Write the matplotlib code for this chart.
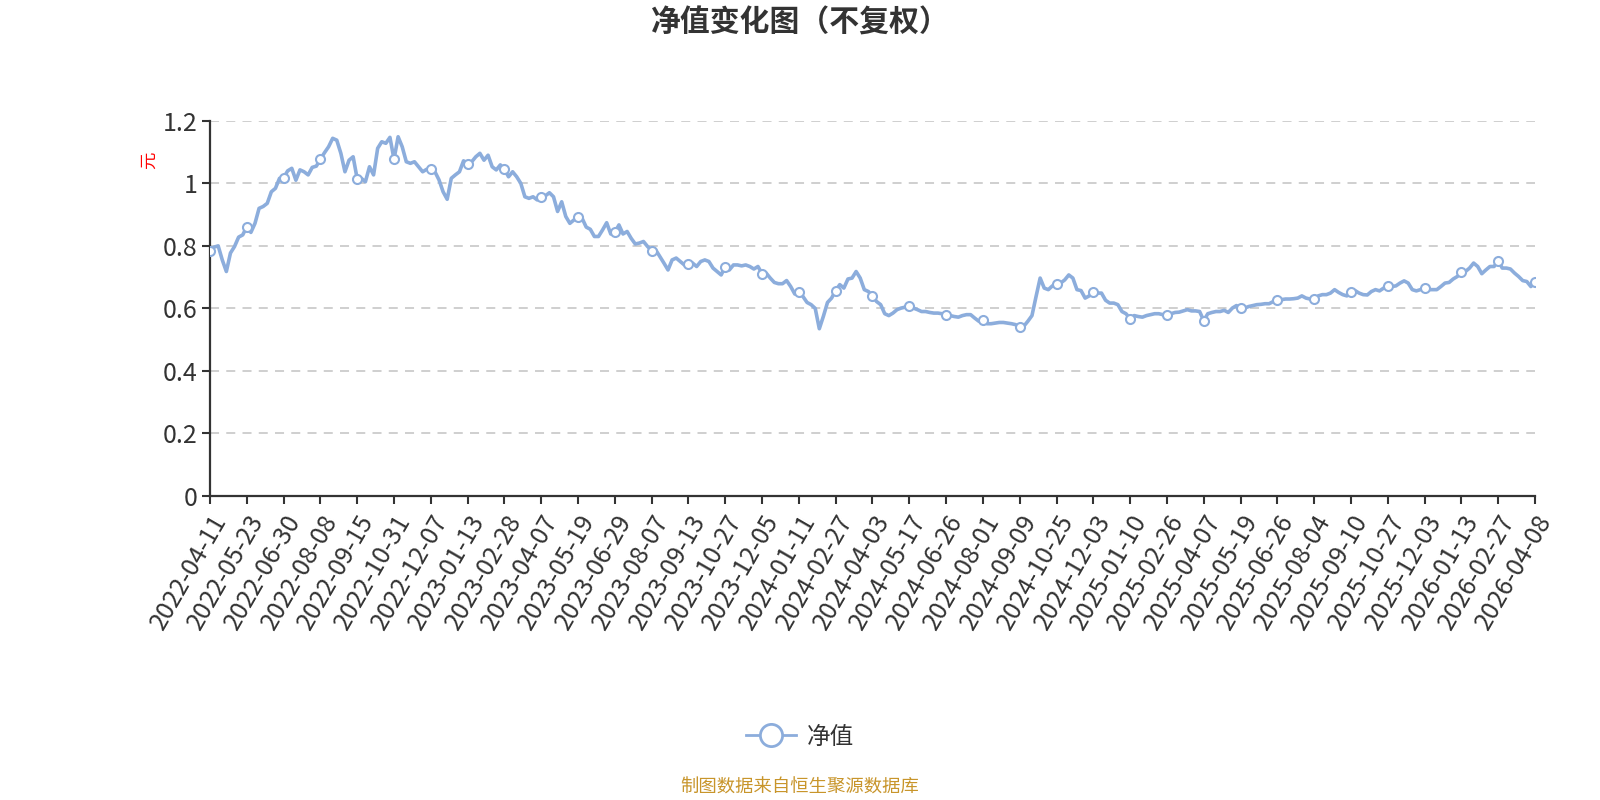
import matplotlib
matplotlib.use('Agg')
import matplotlib.pyplot as plt
from matplotlib.lines import Line2D
import numpy as np

plt.rcParams['font.family'] = ['Noto Sans CJK SC', 'DejaVu Sans']

# ---- data -------------------------------------------------------------
tick_labels = [
    "2022-04-11", "2022-05-23", "2022-06-30", "2022-08-08", "2022-09-15",
    "2022-10-31", "2022-12-07", "2023-01-13", "2023-02-28", "2023-04-07",
    "2023-05-19", "2023-06-29", "2023-08-07", "2023-09-13", "2023-10-27",
    "2023-12-05", "2024-01-11", "2024-02-27", "2024-04-03", "2024-05-17",
    "2024-06-26", "2024-08-01", "2024-09-09", "2024-10-25", "2024-12-03",
    "2025-01-10", "2025-02-26", "2025-04-07", "2025-05-19", "2025-06-26",
    "2025-08-04", "2025-09-10", "2025-10-27", "2025-12-03", "2026-01-13",
    "2026-02-27", "2026-04-08",
]

# net value, sampled every 3 trading days (9 samples between labelled dates)
nav = [
    0.783, 0.796, 0.800, 0.755, 0.718, 0.777, 0.798, 0.828, 0.835,
    0.861, 0.843, 0.872, 0.920, 0.926, 0.936, 0.973, 0.984, 1.016,
    1.018, 1.040, 1.048, 1.010, 1.043, 1.037, 1.027, 1.051, 1.055,
    1.077, 1.098, 1.117, 1.144, 1.138, 1.096, 1.037, 1.074, 1.085,
    1.014, 1.016, 1.005, 1.053, 1.027, 1.112, 1.133, 1.128, 1.147,
    1.077, 1.149, 1.117, 1.069, 1.064, 1.069, 1.053, 1.037, 1.045,
    1.045, 1.037, 1.011, 0.973, 0.949, 1.016, 1.027, 1.037, 1.072,
    1.062, 1.069, 1.085, 1.096, 1.074, 1.090, 1.053, 1.043, 1.059,
    1.045, 1.021, 1.037, 1.021, 1.000, 0.957, 0.952, 0.957, 0.947,
    0.955, 0.960, 0.970, 0.957, 0.910, 0.941, 0.894, 0.872, 0.883,
    0.891, 0.888, 0.860, 0.853, 0.830, 0.830, 0.851, 0.874, 0.838,
    0.843, 0.867, 0.838, 0.846, 0.824, 0.806, 0.809, 0.814, 0.798,
    0.785, 0.787, 0.766, 0.745, 0.723, 0.755, 0.761, 0.750, 0.739,
    0.741, 0.745, 0.734, 0.750, 0.755, 0.750, 0.729, 0.718, 0.707,
    0.734, 0.723, 0.739, 0.739, 0.736, 0.739, 0.734, 0.726, 0.734,
    0.711, 0.713, 0.697, 0.683, 0.679, 0.679, 0.689, 0.670, 0.646,
    0.654, 0.638, 0.619, 0.612, 0.600, 0.535, 0.575, 0.619, 0.633,
    0.657, 0.676, 0.665, 0.694, 0.697, 0.718, 0.697, 0.660, 0.654,
    0.640, 0.622, 0.612, 0.583, 0.577, 0.585, 0.596, 0.601, 0.604,
    0.609, 0.601, 0.596, 0.590, 0.590, 0.587, 0.585, 0.585, 0.583,
    0.578, 0.577, 0.574, 0.572, 0.577, 0.580, 0.580, 0.569, 0.559,
    0.562, 0.551, 0.551, 0.553, 0.555, 0.555, 0.553, 0.551, 0.548,
    0.540, 0.543, 0.559, 0.577, 0.638, 0.697, 0.665, 0.660, 0.672,
    0.679, 0.681, 0.691, 0.707, 0.697, 0.660, 0.657, 0.633, 0.640,
    0.653, 0.649, 0.649, 0.626, 0.617, 0.617, 0.612, 0.590, 0.583,
    0.567, 0.577, 0.574, 0.572, 0.577, 0.580, 0.583, 0.583, 0.580,
    0.578, 0.583, 0.587, 0.588, 0.592, 0.596, 0.592, 0.592, 0.590,
    0.561, 0.583, 0.587, 0.590, 0.590, 0.594, 0.587, 0.601, 0.609,
    0.602, 0.601, 0.606, 0.609, 0.612, 0.613, 0.615, 0.615, 0.622,
    0.627, 0.628, 0.630, 0.630, 0.631, 0.633, 0.640, 0.633, 0.630,
    0.630, 0.640, 0.644, 0.644, 0.649, 0.660, 0.651, 0.644, 0.640,
    0.652, 0.657, 0.649, 0.644, 0.643, 0.654, 0.660, 0.656, 0.665,
    0.672, 0.670, 0.672, 0.681, 0.688, 0.681, 0.660, 0.656, 0.660,
    0.664, 0.660, 0.660, 0.660, 0.670, 0.681, 0.683, 0.694, 0.702,
    0.715, 0.718, 0.729, 0.745, 0.734, 0.711, 0.723, 0.734, 0.734,
    0.753, 0.729, 0.729, 0.726, 0.713, 0.702, 0.689, 0.686, 0.670,
    0.684,
]
label_every = 9
y_ticks = [0, 0.2, 0.4, 0.6, 0.8, 1.0, 1.2]
y_tick_labels = ["0", "0.2", "0.4", "0.6", "0.8", "1", "1.2"]

# ---- style --------------------------------------------------------------
LINE = '#8caddc'
TEXT = '#333333'

fig = plt.figure(figsize=(16, 8), dpi=100)
ax = fig.add_axes([0.13125, 0.38, 0.8281, 0.469])

x = np.arange(len(nav))
nav_arr = np.array(nav)
ax.plot(x, nav_arr, color=LINE, lw=2.6, zorder=3, solid_joinstyle='round')
mk = x[::label_every]
ax.plot(mk, nav_arr[::label_every], ls='none', marker='o', ms=6.5,
        mfc='white', mec=LINE, mew=1.5, zorder=4)

ax.set_xlim(0, len(nav) - 1)
ax.set_ylim(0, 1.2)
ax.set_yticks(y_ticks)
ax.set_yticklabels(y_tick_labels, fontsize=18, color=TEXT)
ax.set_xticks(mk)
ax.set_xticklabels(tick_labels, rotation=60, ha='right', rotation_mode='anchor',
                   fontsize=18, color=TEXT)
ax.tick_params(axis='both', direction='out', length=6, width=1.5, color=TEXT)
ax.tick_params(axis='x', pad=4)
ax.tick_params(axis='y', pad=3)

for s in ('top', 'right'):
    ax.spines[s].set_visible(False)
for s in ('left', 'bottom'):
    ax.spines[s].set_color(TEXT)
    ax.spines[s].set_linewidth(1.6)

ax.yaxis.grid(True, ls=(0, (5, 4)), color='#cccccc', lw=1.3)
ax.set_axisbelow(True)

# y-axis unit
fig.text(149 / 1600, 1 - 160 / 800, '元', color='#ff0000', fontsize=12.5,
         rotation=90, ha='center', va='center')

# title
fig.text(0.5, 1 - 23 / 800, '净值变化图（不复权）', fontsize=21.5, fontweight='bold',
         color=TEXT, ha='center', va='center')

# legend
handle = Line2D([0], [0], color=LINE, lw=2, marker='o', ms=16, mfc='white',
                mec=LINE, mew=2)
fig.legend([handle], ['净值'], loc='center', bbox_to_anchor=(0.5, 1 - 737 / 800),
           frameon=False, fontsize=17, handlelength=2.1, handletextpad=0.45,
           labelcolor=TEXT)

# source
fig.text(0.5, 1 - 788 / 800, '制图数据来自恒生聚源数据库', fontsize=13.2,
         color='#c8952b', ha='center', va='center')

fig.savefig('out.png', dpi=100)
